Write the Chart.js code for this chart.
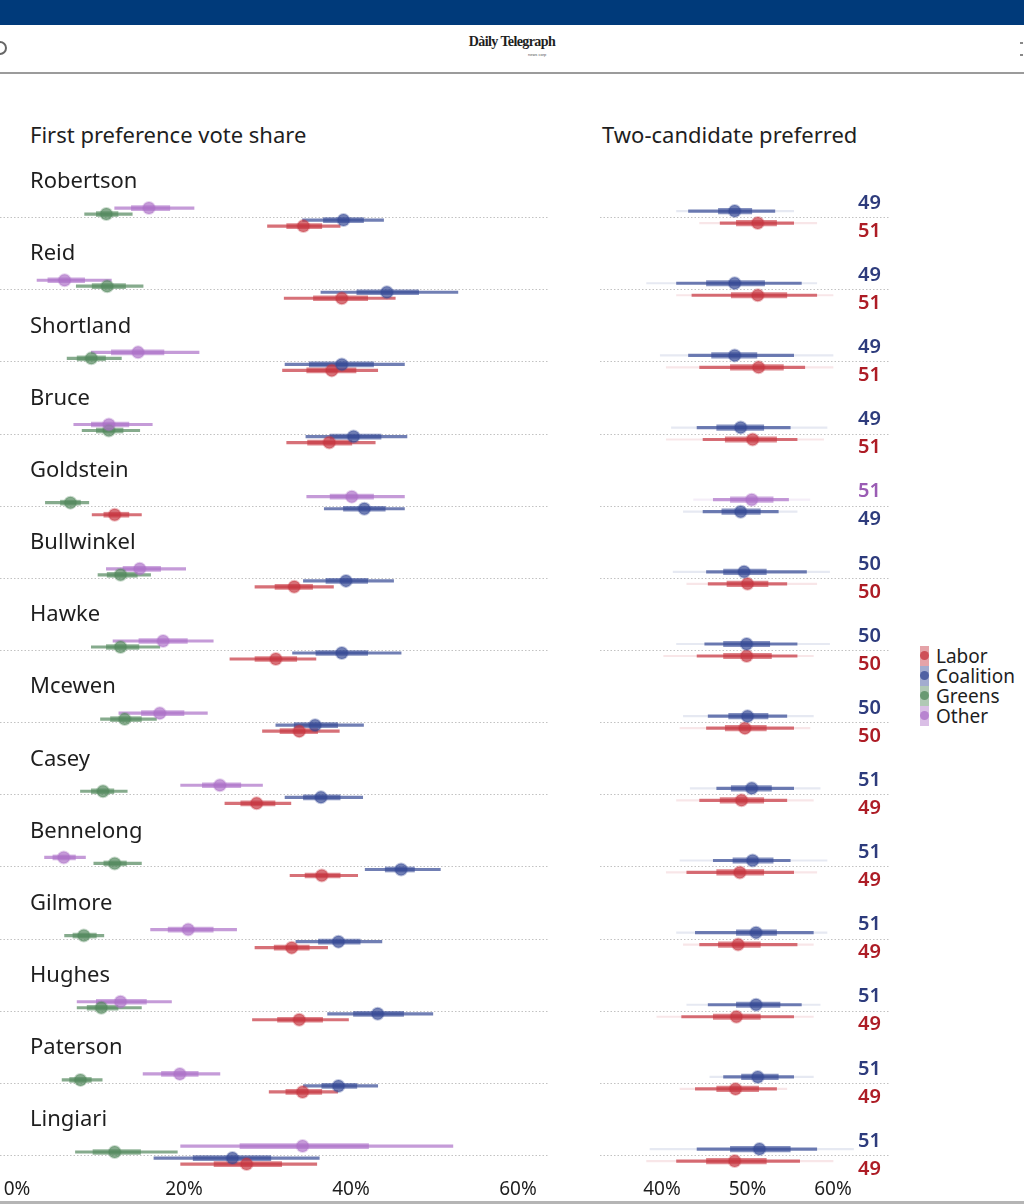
<!DOCTYPE html>
<html>
<head>
<meta charset="utf-8">
<title>First preference vote share / Two-candidate preferred</title>
<script src="https://cdn.jsdelivr.net/npm/chart.js@4.4.1/dist/chart.umd.min.js"></script>
<style>
    body { margin: 0; width: 1024px; height: 1204px; position: relative; overflow: hidden; background: #fff; font-family: 'Noto Sans', sans-serif; color: #1e1e1e; }
    .topbar { position: absolute; left: 0; top: 0; width: 1024px; height: 25px; background: #003a7a; }
    .masthead { position: absolute; left: 0; top: 25px; width: 1024px; height: 47px; border-bottom: 2px solid #9b9b9b; }
    .logo { position: absolute; left: 0; width: 1024px; top: 9px; text-align: center; font-family: 'Liberation Serif', serif; font-weight: bold; font-size: 14px; letter-spacing: -0.6px; }
    .logo-sub { position: absolute; left: 528px; top: 27px; font-size: 4px; color: #555; font-family: 'Liberation Sans', sans-serif; }
    .icon-left { position: absolute; left: -7px; top: 16px; width: 10px; height: 10px; border: 2px solid #666; border-radius: 50%; }
    .icon-right { position: absolute; left: 1020px; top: 17px; width: 3px; height: 10px; border-top: 2px solid #888; border-bottom: 2px solid #888; }
    .title { position: absolute; top: 119px; font-size: 22px; line-height: 30px; }
    #fpWrap { position: absolute; left: 0; top: 150px; }
    #tcpWrap { position: absolute; left: 590px; top: 150px; }
    .legend { position: absolute; left: 920px; top: 646px; }
    .legend-item { position: relative; height: 20px; line-height: 20px; font-size: 19px; padding-left: 16px; }
    .legend-item .swatch { position: absolute; left: 0; top: 0; width: 9px; height: 20px; }
    .legend-item .swatch i { position: absolute; left: 0; top: 5px; width: 9px; height: 9px; border-radius: 50%; }
    .footer-line { position: absolute; left: 0; top: 1201px; width: 1024px; height: 3px; background: #b5b5b5; }
</style>
</head>
<body>
<div class="topbar"></div>
<div class="masthead">
    <div class="icon-left"></div>
    <div class="logo">Dàily Telegraph</div>
    <div class="logo-sub">news corp</div>
    <div class="icon-right"></div>
</div>

<div class="title" style="left:30px">First preference vote share</div>
<div class="title" style="left:602px">Two-candidate preferred</div>

<div id="fpWrap"><canvas id="fpChart" width="548" height="1054"></canvas></div>
<div id="tcpWrap"><canvas id="tcpChart" width="310" height="1054"></canvas></div>
<div class="legend" id="legend"></div>
<div class="footer-line"></div>

<script>
const electorates = ['Robertson', 'Reid', 'Shortland', 'Bruce', 'Goldstein', 'Bullwinkel', 'Hawke',
    'Mcewen', 'Casey', 'Bennelong', 'Gilmore', 'Hughes', 'Paterson', 'Lingiari'];
const parties = ['Labor', 'Coalition', 'Greens', 'Other'];
const fpTicks = [0, 20, 40, 60];
const tcpTicks = [40, 50, 60];

// first preference vote share (%): median, inner band, outer band
const laborFp = [34.3, 38.9, 37.7, 37.4, 11.7, 33.2, 31.0, 33.8, 28.7, 36.5, 32.9, 33.8, 34.2, 27.5];
const laborFpInner = [[32.3, 36.5], [35.5, 42.0], [34.7, 40.6], [34.8, 40.1], [10.4, 13.4], [30.9, 35.4], [28.5, 33.5],
    [31.5, 36.0], [26.8, 30.9], [34.5, 38.7], [30.8, 35.0], [31.2, 36.6], [32.2, 36.5], [23.6, 31.7]];
const laborFpOuter = [[30.0, 38.7], [32.0, 45.3], [31.8, 43.2], [32.3, 42.9], [9.0, 14.9], [28.5, 37.9], [25.5, 35.8],
    [29.4, 38.6], [24.9, 32.8], [32.7, 40.8], [28.5, 37.2], [28.2, 39.7], [30.2, 38.4], [19.6, 35.9]];

const coalitionFp = [39.1, 44.3, 38.9, 40.3, 41.6, 39.4, 38.9, 35.7, 36.4, 46.0, 38.5, 43.2, 38.5, 25.8];
const coalitionFpInner = [[36.7, 41.5], [40.7, 48.1], [35.0, 42.7], [37.5, 43.6], [39.1, 44.1], [37.0, 42.0], [35.8, 42.0],
    [33.2, 38.4], [34.3, 38.7], [44.1, 47.6], [36.1, 41.1], [40.3, 46.3], [36.5, 40.7], [21.1, 30.4]];
const coalitionFpOuter = [[34.2, 43.9], [36.4, 52.8], [32.1, 46.4], [34.6, 46.7], [36.8, 46.4], [34.3, 45.1], [33.0, 46.0],
    [31.0, 41.5], [32.1, 41.4], [41.7, 50.7], [33.4, 43.7], [37.2, 49.8], [34.3, 43.2], [16.4, 36.2]];

const greensFp = [10.7, 10.8, 8.9, 11.0, 6.4, 12.4, 12.4, 12.9, 10.3, 11.7, 8.0, 10.1, 7.6, 11.7];
const greensFpInner = [[9.5, 12.1], [9.0, 13.0], [7.2, 10.6], [9.5, 12.7], [5.2, 7.6], [10.8, 14.4], [10.7, 14.6],
    [11.2, 14.9], [8.9, 11.6], [10.4, 13.1], [6.7, 9.5], [8.4, 12.1], [6.3, 8.9], [9.1, 14.8]];
const greensFpOuter = [[8.1, 13.8], [7.1, 15.1], [6.0, 12.5], [7.8, 14.7], [3.4, 8.6], [9.7, 16.0], [8.9, 17.1],
    [10.0, 16.7], [7.6, 13.2], [9.2, 14.9], [5.7, 10.4], [7.2, 14.9], [5.4, 10.2], [7.0, 19.2]];

const otherFp = [15.8, 5.7, 14.5, 11.0, 40.1, 14.7, 17.5, 17.1, 24.3, 5.6, 20.5, 12.4, 19.5, 34.2];
const otherFpInner = [[13.7, 18.3], [3.7, 8.1], [11.3, 17.6], [8.9, 13.4], [37.5, 42.7], [12.7, 17.2], [14.6, 20.4],
    [14.9, 20.0], [22.2, 26.8], [4.3, 7.0], [18.1, 23.5], [9.5, 15.5], [17.3, 21.7], [26.7, 42.1]];
const otherFpOuter = [[11.7, 21.2], [2.4, 11.3], [8.9, 21.8], [6.8, 16.2], [34.7, 46.4], [10.7, 20.2], [11.5, 23.5],
    [12.2, 22.8], [19.6, 29.4], [3.3, 8.2], [16.0, 26.3], [7.2, 18.5], [15.1, 24.3], [19.6, 52.2]];

// two-candidate preferred (%): upper and lower candidate in each seat
const tcpTopParty = ['Coalition', 'Coalition', 'Coalition', 'Coalition', 'Other', 'Coalition', 'Coalition',
    'Coalition', 'Coalition', 'Coalition', 'Coalition', 'Coalition', 'Coalition', 'Coalition'];
const tcpTopLabel = [49, 49, 49, 49, 51, 50, 50, 50, 51, 51, 51, 51, 51, 51];
const tcpTop = [48.5, 48.5, 48.5, 49.2, 50.5, 49.6, 49.9, 50.0, 50.5, 50.6, 51.0, 51.0, 51.2, 51.4];
const tcpTopInner = [[46.6, 50.5], [45.2, 52.0], [45.8, 51.1], [46.4, 51.9], [48.0, 53.0], [47.2, 52.2], [47.2, 52.6],
    [47.8, 52.4], [48.1, 52.8], [48.3, 53.0], [48.7, 53.4], [48.7, 53.8], [49.3, 53.6], [48.0, 55.0]];
const tcpTopOuter = [[43.1, 53.2], [41.7, 56.3], [43.1, 55.4], [44.1, 55.0], [46.0, 54.8], [45.2, 56.9], [45.0, 55.8],
    [45.4, 54.6], [46.4, 55.4], [46.0, 55.0], [43.9, 57.7], [45.4, 56.3], [47.2, 55.4], [44.1, 58.1]];
const tcpTopTail = [[41.7, 55.4], [38.2, 58.1], [39.8, 60.0], [41.1, 59.3], [43.7, 57.3], [41.3, 59.6], [41.7, 59.6],
    [42.5, 57.7], [43.3, 58.5], [42.1, 59.3], [41.7, 59.3], [42.9, 58.5], [45.6, 57.7], [38.6, 62.4]];

const tcpBottomParty = ['Labor', 'Labor', 'Labor', 'Labor', 'Coalition', 'Labor', 'Labor',
    'Labor', 'Labor', 'Labor', 'Labor', 'Labor', 'Labor', 'Labor'];
const tcpBottomLabel = [51, 51, 51, 51, 49, 50, 50, 50, 49, 49, 49, 49, 49, 49];
const tcpBottom = [51.2, 51.2, 51.3, 50.6, 49.2, 50.0, 49.9, 49.7, 49.3, 49.1, 48.9, 48.7, 48.6, 48.5];
const tcpBottomInner = [[48.7, 53.4], [48.1, 54.6], [48.0, 54.2], [47.4, 53.4], [47.0, 51.5], [47.6, 52.4], [47.2, 52.8],
    [47.4, 52.2], [46.8, 51.9], [46.4, 51.9], [46.6, 51.5], [46.0, 51.5], [46.4, 51.3], [45.2, 52.2]];
const tcpBottomOuter = [[46.8, 55.4], [43.5, 58.1], [44.4, 56.7], [44.8, 55.8], [44.8, 53.6], [45.4, 54.6], [44.1, 55.8],
    [45.2, 55.4], [44.4, 54.6], [42.9, 55.4], [44.4, 55.8], [42.3, 55.4], [43.9, 53.4], [41.7, 56.1]];
const tcpBottomTail = [[44.4, 58.1], [41.7, 60.0], [40.5, 60.0], [40.5, 58.9], [42.5, 55.8], [42.9, 58.1], [40.2, 57.7],
    [42.1, 57.3], [41.7, 57.7], [40.5, 58.1], [42.5, 57.7], [39.4, 57.7], [42.1, 54.6], [38.2, 60.0]];

const PARTY_RGB = { Labor: '198,52,62', Coalition: '52,72,148', Greens: '82,136,92', Other: '172,112,200' };
const LABEL_COLOURS = { Labor: '#ad1c25', Coalition: '#2d3b7c', Greens: '#4e7d52', Other: '#9a5cb4' };
const rgba = (party, a) => `rgba(${PARTY_RGB[party]},${a})`;

// y is measured in rows; 1 row = ~72px, so these shift each party a few pixels off the guide line
const ROW_MIN = -0.5, ROW_MAX = 13.29;

const rowGuides = {
    id: 'rowGuides',
    beforeDatasetsDraw(chart, args, opts) {
        const { ctx, scales: { y } } = chart;
        ctx.save();
        ctx.strokeStyle = '#c2c2c2';
        ctx.lineWidth = 1;
        ctx.setLineDash([1.5, 2]);
        electorates.forEach((_, i) => {
            const py = Math.round(y.getPixelForValue(i)) + 0.5;
            ctx.beginPath();
            ctx.moveTo(opts.from, py);
            ctx.lineTo(opts.to, py);
            ctx.stroke();
        });
        ctx.restore();
    }
};

const seatNames = {
    id: 'seatNames',
    afterDraw(chart) {
        const { ctx, scales: { y } } = chart;
        ctx.save();
        ctx.font = '22px "Noto Sans"';
        ctx.fillStyle = '#1e1e1e';
        ctx.textBaseline = 'middle';
        electorates.forEach((name, i) => ctx.fillText(name, 30, y.getPixelForValue(i) - 35));
        ctx.restore();
    }
};

const tcpLabels = {
    id: 'tcpLabels',
    afterDraw(chart) {
        const { ctx, scales: { y } } = chart;
        ctx.save();
        ctx.font = '600 20px "Noto Sans"';
        ctx.textAlign = 'right';
        ctx.textBaseline = 'middle';
        electorates.forEach((_, i) => {
            const py = y.getPixelForValue(i);
            ctx.fillStyle = LABEL_COLOURS[tcpTopParty[i]];
            ctx.fillText(tcpTopLabel[i], 291, py - 14);
            ctx.fillStyle = LABEL_COLOURS[tcpBottomParty[i]];
            ctx.fillText(tcpBottomLabel[i], 291, py + 14);
        });
        ctx.restore();
    }
};

function band(values, offset, colour, thickness, order) {
    return {
        type: 'bar',
        indexAxis: 'y',
        data: values.map((r, i) => ({ x: r, y: i + offset })),
        backgroundColor: colour,
        barThickness: thickness,
        grouped: false,
        borderWidth: 0,
        clip: false,
        order
    };
}

function dots(values, offset, colour, ring) {
    return {
        type: 'scatter',
        data: values.map((v, i) => ({ x: v, y: i + offset })),
        backgroundColor: colour,
        borderColor: ring,
        borderWidth: 2,
        pointRadius: 6,
        clip: false,
        order: 0
    };
}

function xAxis(min, max, ticks) {
    return {
        type: 'linear',
        min, max,
        offset: false,
        grid: { display: false, drawTicks: false, offset: false },
        border: { display: false },
        afterBuildTicks: s => { s.ticks = ticks.map(v => ({ value: v })); },
        afterFit: s => { s.height = 28; },
        ticks: { font: { family: 'Noto Sans', size: 19 }, color: '#1e1e1e', padding: 2, maxRotation: 0, callback: v => v + '%' }
    };
}

const yAxis = { type: 'linear', reverse: true, min: ROW_MIN, max: ROW_MAX, offset: false, display: false };

// first preference panel
const fpSeries = [
    { party: 'Other', mid: otherFp, inner: otherFpInner, outer: otherFpOuter, offset: -0.125 },
    { party: 'Greens', mid: greensFp, inner: greensFpInner, outer: greensFpOuter, offset: -0.042 },
    { party: 'Coalition', mid: coalitionFp, inner: coalitionFpInner, outer: coalitionFpOuter, offset: 0.042 },
    { party: 'Labor', mid: laborFp, inner: laborFpInner, outer: laborFpOuter, offset: 0.125 }
];
const fpDatasets = [];
fpSeries.forEach(s => {
    fpDatasets.push(band(s.outer, s.offset, rgba(s.party, 0.7), 2.5, 3));
    fpDatasets.push(band(s.inner, s.offset, rgba(s.party, 0.6), 5, 2));
    fpDatasets.push(dots(s.mid, s.offset, rgba(s.party, 0.7), rgba(s.party, 0.3)));
});

new Chart(document.getElementById('fpChart'), {
    type: 'bar',
    data: { datasets: fpDatasets },
    options: {
        responsive: false,
        animation: false,
        events: [],
        layout: { padding: { left: 17, right: 30, top: 31, bottom: 0 } },
        plugins: { legend: { display: false }, tooltip: { enabled: false }, rowGuides: { from: 0, to: 548 } },
        scales: { x: xAxis(0, 60, fpTicks), y: yAxis }
    },
    plugins: [rowGuides, seatNames]
});

// two-candidate preferred panel
const tcpDatasets = [];
[
    { party: tcpTopParty, mid: tcpTop, inner: tcpTopInner, outer: tcpTopOuter, tail: tcpTopTail, offset: -0.083 },
    { party: tcpBottomParty, mid: tcpBottom, inner: tcpBottomInner, outer: tcpBottomOuter, tail: tcpBottomTail, offset: 0.083 }
].forEach(s => {
    const colour = a => ctx => rgba(s.party[ctx.dataIndex], a);
    tcpDatasets.push(band(s.tail, s.offset, colour(0.12), 1.5, 4));
    tcpDatasets.push(band(s.outer, s.offset, colour(0.7), 2.5, 3));
    tcpDatasets.push(band(s.inner, s.offset, colour(0.6), 5.5, 2));
    tcpDatasets.push(dots(s.mid, s.offset, colour(0.7), colour(0.3)));
});

new Chart(document.getElementById('tcpChart'), {
    type: 'bar',
    data: { datasets: tcpDatasets },
    options: {
        responsive: false,
        animation: false,
        events: [],
        layout: { padding: { left: 72, right: 67, top: 31, bottom: 0 } },
        plugins: { legend: { display: false }, tooltip: { enabled: false }, rowGuides: { from: 10, to: 300 } },
        scales: { x: xAxis(40, 60, tcpTicks), y: yAxis }
    },
    plugins: [rowGuides, tcpLabels]
});

// legend
const legend = document.getElementById('legend');
parties.forEach(p => {
    const item = document.createElement('div');
    item.className = 'legend-item';
    item.innerHTML = `<span class="swatch" style="background:${rgba(p, 0.45)}"><i style="background:${rgba(p, 0.75)}"></i></span>${p}`;
    legend.appendChild(item);
});
</script>
</body>
</html>
